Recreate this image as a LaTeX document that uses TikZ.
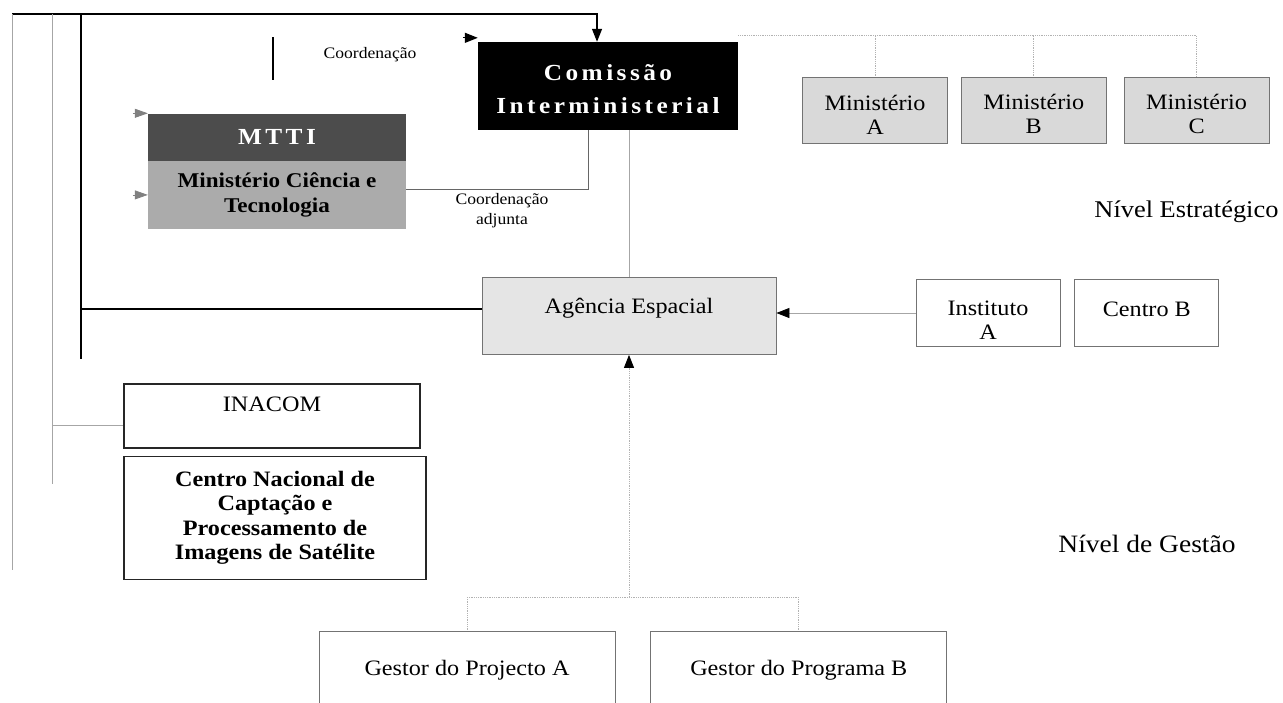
\documentclass[tikz,border=0pt]{standalone}
\usepackage{fontspec}
\setmainfont{Liberation Serif}[FakeStretch=1.1]
\newfontfamily\spacedfont{Liberation Serif}[FakeStretch=1.1,LetterSpace=15]
\newcommand\lowstrut[1]{\rule{0pt}{#1}}
\usetikzlibrary{arrows.meta, positioning}

\begin{document}
\begin{tikzpicture}[x=1pt, y=-1pt, >={Triangle[length=13pt,width=10pt]}, font=\fontsize{22}{24}\selectfont]
				\tikzstyle{box}=[draw=black!55, line width=0.8pt, minimum height=66pt, inner sep=0pt, align=center]
				\tikzstyle{ministerio}=[box, fill=black!15, minimum width=145pt]
				\tikzstyle{whitebox}=[box, fill=white]
				\tikzstyle{darkbox}=[draw=black!85, line width=1.2pt, inner sep=0pt, align=center, minimum width=296pt]
				\tikzstyle{solidline}=[black, line width=1.3pt]
				\tikzstyle{thinline}=[black!35, line width=0.8pt]
				\tikzstyle{dotline}=[black!30, line width=0.8pt, densely dotted]
				\tikzstyle{note}=[font=\fontsize{16}{20}\selectfont, align=center]
				\tikzstyle{level}=[font=\fontsize{24}{26}\selectfont]

				\useasboundingbox (0,0) rectangle (1283,702);
				\clip (0,0) rectangle (1283,702);

				% nivel estrategico
				\node[fill=black, minimum width=260pt, minimum height=88pt, inner sep=0pt, text=white, align=center, font=\fontsize{23}{33}\selectfont\spacedfont\bfseries] at (608,86) (com) {\lowstrut{22pt}Comissão\\Interministerial};
				\node[fill=black!70, minimum width=258pt, minimum height=47pt, inner sep=0pt, text=white, font=\fontsize{23}{24}\selectfont\spacedfont\bfseries] at (277,137) (mtti) {MTTI};
				\node[fill=black!33, minimum width=258pt, minimum height=68pt, inner sep=0pt, align=center, font=\fontsize{21}{25}\selectfont\bfseries, below=0pt of mtti] (mct) {Ministério Ciência e\\Tecnologia};

				\node[ministerio] at (875,110) (minA) {\lowstrut{24pt}Ministério\\A};
				\node[ministerio, right=13pt of minA] (minB) {\lowstrut{24pt}Ministério\\B};
				\node[ministerio, right=17pt of minB] (minC) {\lowstrut{24pt}Ministério\\C};

				\node[note] at (370,55) (coord) {Coordenação};
				\node[note] at (502,211) (coordadj) {Coordenação\\adjunta};
				\node[level, anchor=east] at (1282,212) (nivE) {Nível Estratégico};

				% nivel de gestao
				\node[box, fill=black!10, minimum width=294pt, minimum height=77pt, text height=15pt, text depth=21pt] at (629,316) (ag) {Agência Espacial};
				\node[whitebox, minimum width=144pt, minimum height=67pt] at (988,313) (inst) {\lowstrut{28pt}Instituto\\A};
				\node[whitebox, minimum width=144pt, minimum height=67pt, text height=15pt, text depth=9pt, right=14pt of inst] (cenB) {Centro B};

				\node[darkbox, minimum height=64pt, text height=15pt, text depth=25pt] at (272,416) (inacom) {INACOM};
				\node[darkbox, minimum width=302pt, minimum height=123pt, font=\fontsize{22}{24.5}\selectfont\bfseries, below=7pt of inacom.south west, anchor=north west] (cnc) {Centro Nacional de\\Captação e\\Processamento de\\Imagens de Satélite};

				\node[level, font=\fontsize{25}{27}\selectfont] at (1147,544) (nivG) {Nível de Gestão};

				\node[whitebox, minimum width=296pt, minimum height=78pt, text height=15pt, text depth=5pt] at (467,670) (gestA) {Gestor do Projecto A};
				\node[whitebox, minimum width=296pt, minimum height=78pt, text height=15pt, text depth=5pt, right=35pt of gestA] (gestB) {Gestor do Programa B};

				% ligacoes
				\coordinate (topL) at (12,14);
				\coordinate (topM) at (52,14);
				\coordinate (topK) at (81,14);
				\coordinate (comIn) at ([xshift=-11pt]com.north);
				\coordinate (agIn) at ([yshift=7pt]ag.west);
				\coordinate (inIn) at ([yshift=-9pt]inacom.west);
				\coordinate (cja) at ([xshift=-20pt]com.south);
				\coordinate (tick) at (273,37);
				\coordinate (busM) at ([yshift=6pt]com.north east);
				\coordinate (busG) at (629,597);

				\draw[solidline, ->] (topL) -- (topL -| comIn) -- (comIn);
				\draw[thinline] (topL) -- ++(0,556);
				\draw[thinline] (topM) -- ++(0,470);
				\draw[solidline] (topK) -- ++(0,345);
				\draw[solidline] (agIn -| topK) -- (agIn);
				\draw[thinline] (inIn -| topM) -- (inIn);
				\draw[solidline] (tick) -- ++(0,43);
				\draw[solidline, ->] ([shift={(-15pt,4pt)}]com.north west) -- ([yshift=4pt]com.north west);

				\draw[black!50, line width=0.8pt, -{Triangle[length=13pt,width=9pt]}] ([xshift=-15pt]mtti.north west) -- (mtti.north west);
				\draw[black!50, line width=0.8pt, -{Triangle[length=13pt,width=9pt]}] ([xshift=-15pt]mct.west) -- (mct.west);
				\draw[thinline, black!60] ([yshift=6pt]mct.east) -| (cja);
				\draw[thinline] (ag.north) -- (ag.north |- com.south);

				\draw[dotline] (busM) -- (busM -| minC.north) -- (minC.north);
				\draw[dotline] (busM -| minA.north) -- (minA.north);
				\draw[dotline] (busM -| minB.north) -- (minB.north);

				\draw[thinline, -{Triangle[length=13pt,width=10pt,color=black]}] (inst.west) -- (inst.west -| ag.east);
				\draw[dotline, -{Triangle[length=13pt,width=10pt,color=black]}] (busG) -- (ag.south);
				\draw[dotline] (busG -| gestA.north) -- (busG -| gestB.north);
				\draw[dotline] (busG -| gestA.north) -- (gestA.north);
				\draw[dotline] (busG -| gestB.north) -- (gestB.north);
		  \end{tikzpicture}
\end{document}
